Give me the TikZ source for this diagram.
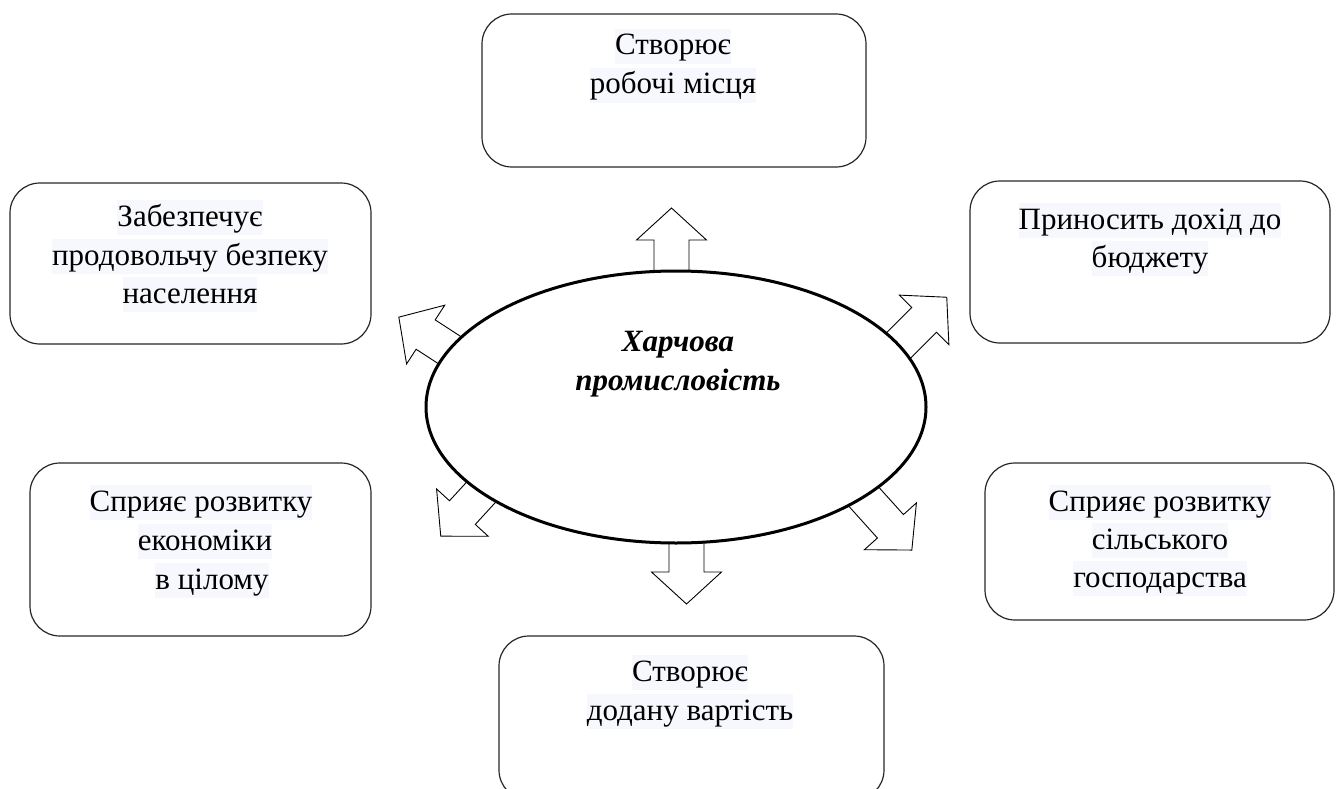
\documentclass[tikz,border=0pt]{standalone}
\usepackage{fontspec}
\setmainfont{Liberation Serif}
\usetikzlibrary{shapes.geometric}
\definecolor{hl}{HTML}{F7F8FE}
\tikzset{
  box/.style={draw=black!85, line width=1.2pt, rounded corners=30pt, minimum width=#1, inner sep=0pt},
  ln/.style={font=\fontsize{31}{39}\selectfont, fill=hl, inner xsep=0pt, inner ysep=0pt,
    text height=26pt, text depth=9pt, anchor=base},
  blockarrow/.style={draw=black, line width=0.9pt, fill=white, line join=miter},
  ttl/.style={font=\fontsize{31}{39}\selectfont\bfseries\itshape, inner sep=0pt, anchor=base}
}
\begin{document}
\begin{tikzpicture}[x=1pt,y=-1pt]
\useasboundingbox (0,0) rectangle (1339,789);
\clip (0,0) rectangle (1339,789);
% boxes
\node[box=384pt, minimum height=153pt] (btop) at (674,90.5) {};
\node[box=361pt, minimum height=161pt] (blt) at (190.5,263.5) {};
\node[box=360pt, minimum height=162pt] (brt) at (1150,262) {};
\node[box=341pt, minimum height=173pt] (blb) at (200.5,549.5) {};
\node[box=349pt, minimum height=157pt] (brb) at (1159.5,541.5) {};
\node[box=385pt, minimum height=164pt] (bbot) at (691.5,718) {};
% texts
\node[ln] (t1) at (673,55) {Створює};
\node[ln] (t2) at (673,94) {робочі місця};
\node[ln] (l1) at (190,226) {Забезпечує};
\node[ln] (l2) at (190,265) {продовольчу безпеку};
\node[ln] (l3) at (190,303) {населення};
\node[ln] (r1) at (1150,229) {Приносить дохід до};
\node[ln] (r2) at (1150,267) {бюджету};
\node[ln] (lb1) at (201,511) {Сприяє розвитку};
\node[ln] (lb2) at (205,550) {економіки};
\node[ln] (lb3) at (212,589) {в цілому};
\node[ln] (rb1) at (1160,511) {Сприяє розвитку};
\node[ln] (rb2) at (1160,549) {сільського};
\node[ln] (rb3) at (1160,587) {господарства};
\node[ln] (bt1) at (690,681) {Створює};
\node[ln] (bt2) at (690,720) {додану вартість};
% block arrows
\foreach \bx/\by/\ang in {671.5/272/90, 686.5/540/-90, 901.5/342.5/45, 452.5/352/147, 484/489/227.5, 869/502.5/-48}{
  \draw[blockarrow, shift={(\bx,\by)}, rotate=\ang]
    (-16,-17.5) -- (32,-17.5) -- (32,-35) -- (64,0) -- (32,35) -- (32,17.5) -- (-16,17.5) -- cycle;
}
% ellipse
\node[draw=black, line width=3pt, fill=white, ellipse, minimum width=500pt, minimum height=272pt, inner sep=0pt] (E) at (676,407) {};
\node[ttl] (h1) at (678,351) {Харчова};
\node[ttl] (h2) at (678,390) {промисловість};
\end{tikzpicture}
\end{document}
